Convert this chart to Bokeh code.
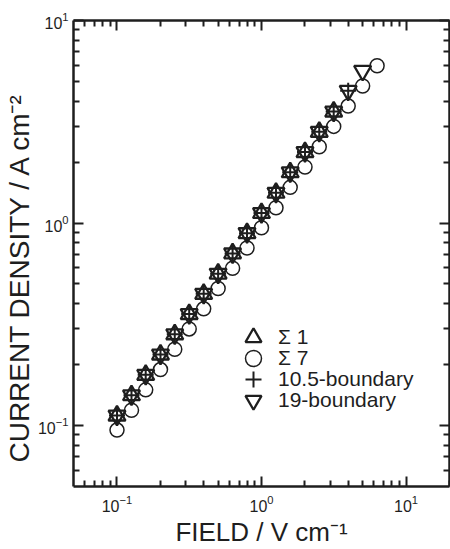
from bokeh.plotting import figure
from bokeh.models import LogAxis, FixedTicker, CustomJSTickFormatter, Legend, LegendItem
from bokeh.embed import file_html
from bokeh.resources import INLINE

# ---- data ----
field = [0.1, 0.126, 0.158, 0.2, 0.251, 0.316, 0.398, 0.501, 0.631, 0.794,
         1.0, 1.26, 1.58, 2.0, 2.51, 3.16, 3.98, 5.01, 6.31]
sigma1 = [0.112, 0.141, 0.178, 0.224, 0.282, 0.355, 0.447, 0.562, 0.708, 0.891,
          1.12, 1.41, 1.78, 2.24, 2.82, 3.55]
sigma7 = [0.095, 0.119, 0.150, 0.189, 0.238, 0.300, 0.377, 0.475, 0.598, 0.753,
          0.948, 1.19, 1.50, 1.89, 2.38, 3.00, 3.78, 4.75, 5.98]
b105 = [0.112, 0.141, 0.178, 0.224, 0.282, 0.355, 0.447, 0.562, 0.708, 0.891,
        1.12, 1.41, 1.78, 2.24, 2.82, 3.55, 4.50]
b19 = [0.112, 0.141, 0.178, 0.224, 0.282, 0.355, 0.447, 0.562, 0.708, 0.891,
       1.12, 1.41, 1.78, 2.24, 2.82, 3.55, 4.50, 5.65]
labels = ["\u03a3 1", "\u03a3 7", "10.5-boundary", "19-boundary"]

major_ticks = [0.1, 1, 10]
x_minor = [0.06, 0.07, 0.08, 0.09, 0.2, 0.3, 0.4, 0.5, 0.6, 0.7, 0.8, 0.9,
           2, 3, 4, 5, 6, 7, 8, 9, 20]
y_minor = [0.06, 0.07, 0.08, 0.09, 0.2, 0.3, 0.4, 0.5, 0.6, 0.7, 0.8, 0.9,
           2, 3, 4, 5, 6, 7, 8, 9]

INK = "#1e1e1e"
FONT = "Liberation Sans"

p = figure(width=450, height=549, x_axis_type="log", y_axis_type="log",
           x_range=(0.05, 20), y_range=(0.05, 10),
           output_backend="svg", toolbar_location=None,
           min_border_left=73, min_border_right=1, min_border_top=20, min_border_bottom=60)
p.grid.visible = False
p.outline_line_color = None
p.background_fill_color = "white"
p.border_fill_color = "white"

def style_axis(ax, minor):
    ax.ticker = FixedTicker(ticks=major_ticks, minor_ticks=minor)
    ax.axis_line_width = 2.5
    ax.axis_line_color = INK
    ax.major_tick_in = 10
    ax.major_tick_out = 0
    ax.minor_tick_in = 6
    ax.minor_tick_out = 0
    ax.major_tick_line_width = 2
    ax.minor_tick_line_width = 2
    ax.major_tick_line_color = INK
    ax.minor_tick_line_color = INK
    ax.major_label_text_font = FONT
    ax.major_label_text_font_size = "16px"
    ax.major_label_text_color = INK
    ax.axis_label_text_font = FONT
    ax.axis_label_text_font_style = "normal"
    ax.axis_label_text_color = INK
    ax.axis_label_text_font_size = "26px"

xa = p.xaxis[0]
ya = p.yaxis[0]
style_axis(xa, x_minor)
style_axis(ya, y_minor)
xa.axis_label = "FIELD / V cm\u207b\u00b9"
ya.axis_label = "CURRENT DENSITY / A cm\u207b\u00b2" + "\u00a0" * 6
ya.axis_label_text_font_size = "28px"
xa.major_label_standoff = 8
ya.major_label_standoff = 5
xa.axis_label_standoff = 2
ya.axis_label_standoff = 0

for loc, minor in (("above", x_minor), ("right", y_minor)):
    ax = LogAxis()
    style_axis(ax, minor)
    ax.formatter = CustomJSTickFormatter(code="return ''")
    ax.major_label_text_font_size = "0px"
    ax.major_label_standoff = 0
    p.add_layout(ax, loc)

r1 = p.scatter(field[:len(sigma1)], sigma1, marker="triangle", size=17,
               fill_color=None, line_color=INK, line_width=2.3)
r7 = p.scatter(field[:len(sigma7)], sigma7, marker="circle", size=14,
               fill_color=None, line_color=INK, line_width=1.5)
r105 = p.scatter(field[:len(b105)], b105, marker="cross", size=16,
                 line_color=INK, line_width=2)
r19 = p.scatter(field[:len(b19)], b19, marker="inverted_triangle", size=17,
                fill_color=None, line_color=INK, line_width=2.3)

# one legend per entry so that the rows can sit closer than the glyph box
for i, (lab, rend) in enumerate(zip(labels, [r1, r7, r105, r19])):
    lg = Legend(items=[LegendItem(label=lab, renderers=[rend])],
                location=(160, 129 - 21 * i), glyph_width=40, glyph_height=40,
                label_standoff=5, padding=0, margin=0,
                border_line_color=None, background_fill_alpha=0,
                label_text_font=FONT, label_text_font_size="21px",
                label_text_color=INK)
    p.add_layout(lg)

open("out.html", "w").write(file_html(p, INLINE))
